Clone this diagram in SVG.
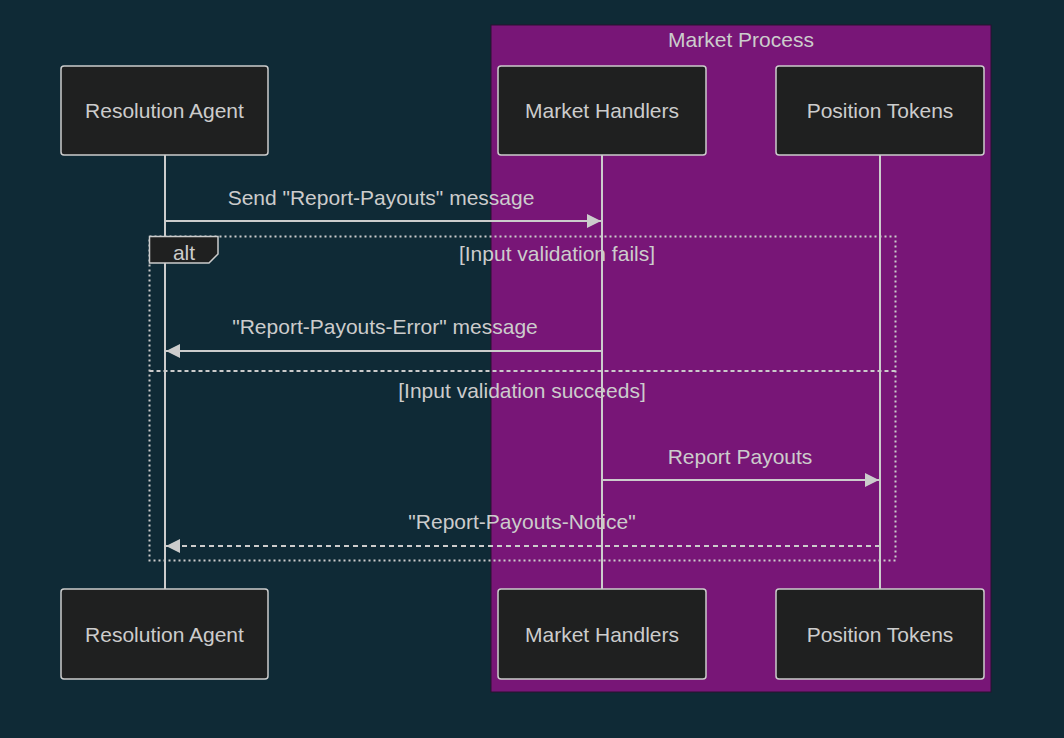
<svg xmlns="http://www.w3.org/2000/svg" width="1064" height="738" viewBox="0 0 1064 738">
<defs>
<style>
text{font-family:"Liberation Sans","DejaVu Sans",sans-serif;fill:#cccccc;font-size:21px;text-anchor:middle;dominant-baseline:central}
.actor{fill:#1f2020;stroke:#cccccc;stroke-width:1.5}
.life{stroke:#cccccc;stroke-width:2}
.msg{stroke:#cccccc;stroke-width:2;fill:none}
.dash{stroke-dasharray:5,4}
.loop{stroke:#cccccc;stroke-width:2;fill:none;stroke-dasharray:2,3}
.sep{stroke:#cccccc;stroke-width:2;fill:none;stroke-dasharray:4,3}
</style>
<marker id="arr" viewBox="0 0 14 14" refX="14" refY="7" markerWidth="14" markerHeight="14" markerUnits="userSpaceOnUse" orient="auto">
<path d="M0,0 L14,7 L0,14 z" fill="#cccccc"/>
</marker>
</defs>
<rect width="1064" height="738" fill="#0f2a36"/>
<g id="box-market-process">
<rect x="491" y="25" width="500" height="667" fill="#781677" stroke="#2a1030" stroke-width="1"/>
<text x="741" y="39">Market Process</text>
</g>
<g id="lifelines">
<line class="life" x1="165" y1="155" x2="165" y2="589"/>
<line class="life" x1="602" y1="155" x2="602" y2="589"/>
<line class="life" x1="880" y1="155" x2="880" y2="589"/>
</g>
<g id="actor-resolution-agent">
<rect class="actor" x="61" y="66" width="207" height="89" rx="3"/>
<text x="164.5" y="110.5">Resolution Agent</text>
</g>
<g id="actor-market-handlers">
<rect class="actor" x="498" y="66" width="208" height="89" rx="3"/>
<text x="602" y="110.5">Market Handlers</text>
</g>
<g id="actor-position-tokens">
<rect class="actor" x="776" y="66" width="208" height="89" rx="3"/>
<text x="880" y="110.5">Position Tokens</text>
</g>
<g id="actor-resolution-agent-bottom">
<rect class="actor" x="61" y="589" width="207" height="90" rx="3"/>
<text x="164.5" y="634">Resolution Agent</text>
</g>
<g id="actor-market-handlers-bottom">
<rect class="actor" x="498" y="589" width="208" height="90" rx="3"/>
<text x="602" y="634">Market Handlers</text>
</g>
<g id="actor-position-tokens-bottom">
<rect class="actor" x="776" y="589" width="208" height="90" rx="3"/>
<text x="880" y="634">Position Tokens</text>
</g>
<g id="alt-block">
<rect class="loop" x="149.5" y="236.5" width="746" height="324"/>
<path d="M149.5,236.5 H218 V254 L209,263 H149.5 Z" fill="#1f2020" stroke="#cccccc" stroke-width="1.5"/>
<text x="184" y="252">alt</text>
<text x="557" y="253">[Input validation fails]</text>
<line class="sep" x1="149.5" y1="371" x2="895.5" y2="371"/>
<text x="522" y="390">[Input validation succeeds]</text>
</g>
<g id="connectors">
<line class="msg" x1="165" y1="221" x2="601" y2="221" marker-end="url(#arr)"/>
<text x="381" y="197">Send "Report-Payouts" message</text>
<line class="msg" x1="602" y1="351" x2="166" y2="351" marker-end="url(#arr)"/>
<text x="385" y="326">"Report-Payouts-Error" message</text>
<line class="msg" x1="602" y1="480" x2="879" y2="480" marker-end="url(#arr)"/>
<text x="740" y="456">Report Payouts</text>
<line class="msg dash" x1="880" y1="546" x2="166" y2="546" marker-end="url(#arr)"/>
<text x="522" y="521">"Report-Payouts-Notice"</text>
</g>
</svg>
